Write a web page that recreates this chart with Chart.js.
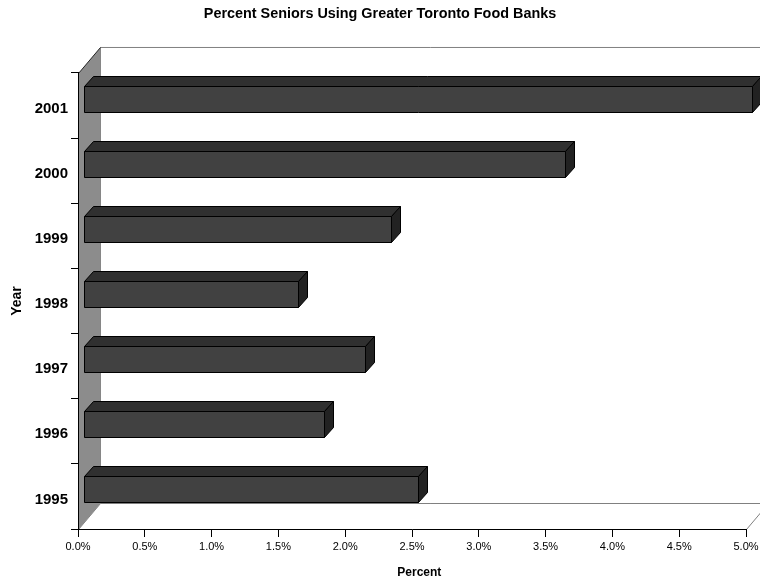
<!DOCTYPE html>
<html>
<head>
<meta charset="utf-8">
<script src="https://cdn.jsdelivr.net/npm/chart.js@4/dist/chart.umd.min.js"></script>
<style>
  body { margin: 0; background: #fff; }
  canvas { display: block; }
</style>
</head>
<body>
<canvas id="seniorsChart" width="760" height="586"></canvas>
<script>
// data (percent)
var years = ["1995", "1996", "1997", "1998", "1999", "2000", "2001"];
var seniorsPct = [2.5, 1.8, 2.1, 1.6, 2.3, 3.6, 5.0];
var xTicks = [0, 0.5, 1, 1.5, 2, 2.5, 3, 3.5, 4, 4.5, 5];

var FONT = "'Liberation Sans', Arial, sans-serif";

// depth of the walls and of the bars (fake 3d, like the old excel charts)
var WALL = { dx: 22, dy: -26 };
var BAR_SHIFT = { dx: 6, dy: -7 };
var BAR_DEPTH = { dx: 9, dy: -10 };

function poly(ctx, pts, fill, stroke) {
  ctx.beginPath();
  ctx.moveTo(pts[0][0], pts[0][1]);
  for (var i = 1; i < pts.length; i++) ctx.lineTo(pts[i][0], pts[i][1]);
  ctx.closePath();
  if (fill) { ctx.fillStyle = fill; ctx.fill(); }
  if (stroke) { ctx.strokeStyle = stroke; ctx.lineWidth = 1; ctx.stroke(); }
}

var walls3d = {
  id: "walls3d",
  beforeDraw: function (chart) {
    var a = chart.chartArea;
    var ctx = chart.ctx;
    var L = a.left, R = a.right, T = a.top, B = a.bottom;
    ctx.save();
    ctx.translate(0.5, 0.5);
    // back wall
    poly(ctx, [[L + WALL.dx, T + WALL.dy], [R + WALL.dx, T + WALL.dy],
               [R + WALL.dx, B + WALL.dy], [L + WALL.dx, B + WALL.dy]], "#ffffff", "#808080");
    // floor edges
    poly(ctx, [[L, B], [L + WALL.dx, B + WALL.dy], [R + WALL.dx, B + WALL.dy], [R, B]], null, "#808080");
    // side wall
    poly(ctx, [[L, T], [L + WALL.dx, T + WALL.dy], [L + WALL.dx, B + WALL.dy], [L, B]], "#8c8c8c", null);
    ctx.beginPath();
    ctx.moveTo(L, T);
    ctx.lineTo(L + WALL.dx, T + WALL.dy);
    ctx.strokeStyle = "#222";
    ctx.stroke();
    ctx.restore();
  },
  afterDatasetsDraw: function (chart) {
    var ctx = chart.ctx;
    var xs = chart.scales.x;
    var meta = chart.getDatasetMeta(0);
    var base = xs.getPixelForValue(0) + BAR_SHIFT.dx;
    ctx.save();
    ctx.lineJoin = "miter";
    // back (top) to front (bottom)
    for (var i = meta.data.length - 1; i >= 0; i--) {
      var el = meta.data[i];
      var p = el.getProps(["x", "y", "height"], true);
      var x1 = Math.round(p.x + BAR_SHIFT.dx) + 0.5;
      var x0 = Math.round(base) + 0.5;
      var y0 = Math.round(p.y - p.height / 2 + BAR_SHIFT.dy) + 0.5;
      var y1 = Math.round(p.y + p.height / 2 + BAR_SHIFT.dy) + 0.5;
      var dx = BAR_DEPTH.dx, dy = BAR_DEPTH.dy;
      // top face
      poly(ctx, [[x0, y0], [x0 + dx, y0 + dy], [x1 + dx, y0 + dy], [x1, y0]], "#303030", "#000");
      // side face
      poly(ctx, [[x1, y0], [x1 + dx, y0 + dy], [x1 + dx, y1 + dy], [x1, y1]], "#222222", "#000");
      // front face
      poly(ctx, [[x0, y0], [x1, y0], [x1, y1], [x0, y1]], "#414141", "#000");
    }
    ctx.restore();
  },
  afterDraw: function (chart) {
    // x axis title sits a bit right of the scale centre in the original
    var a = chart.chartArea;
    var ctx = chart.ctx;
    ctx.save();
    ctx.font = "bold 12px " + FONT;
    ctx.fillStyle = "#000";
    ctx.textAlign = "center";
    ctx.textBaseline = "middle";
    ctx.fillText("Percent", (a.left + a.right) / 2 + WALL.dx / 3, 573);
    ctx.restore();
  }
};

var ctx = document.getElementById("seniorsChart").getContext("2d");
var seniorsChart = new Chart(ctx, {
  type: "bar",
  data: {
    labels: years,
    datasets: [
      {
        label: "Percent",
        data: seniorsPct,
        backgroundColor: "rgba(0,0,0,0)",
        borderWidth: 0,
        categoryPercentage: 1,
        barPercentage: 0.4
      }
    ]
  },
  options: {
    indexAxis: "y",
    responsive: false,
    animation: false,
    layout: { padding: 0 },
    plugins: {
      legend: { display: false },
      tooltip: { enabled: false },
      title: {
        display: true,
        text: "Percent Seniors Using Greater Toronto Food Banks",
        color: "#000",
        font: { family: FONT, size: 14.4, weight: "bold" },
        padding: { top: 5.5, bottom: 50.2 }
      }
    },
    scales: {
      x: {
        min: 0,
        max: 5,
        afterBuildTicks: function (scale) {
          scale.ticks = xTicks.map(function (v) { return { value: v }; });
        },
        afterFit: function (scale) {
          scale.height = 57;
          scale.paddingRight = 14;
        },
        grid: {
          drawOnChartArea: false,
          color: "#000",
          tickLength: 8
        },
        border: { color: "#000", width: 1 },
        ticks: {
          color: "#000",
          padding: 3,
          maxRotation: 0,
          font: { family: FONT, size: 11 },
          callback: function (v) { return Number(v).toFixed(1) + "%"; }
        }
      },
      y: {
        reverse: true,
        afterFit: function (scale) {
          scale.width = 78;
          scale.paddingTop = 0;
          scale.paddingBottom = 0;
        },
        grid: {
          offset: true,
          drawOnChartArea: false,
          color: "#000",
          tickLength: 7
        },
        border: { color: "#000", width: 1 },
        ticks: {
          color: "#000",
          padding: 3,
          labelOffset: 3,
          font: { family: FONT, size: 15, weight: "bold" }
        },
        title: {
          display: true,
          text: "Year",
          color: "#000",
          font: { family: FONT, size: 14, weight: "bold" },
          padding: { top: 9, bottom: 9 }
        }
      }
    }
  },
  plugins: [walls3d]
});
</script>
</body>
</html>
